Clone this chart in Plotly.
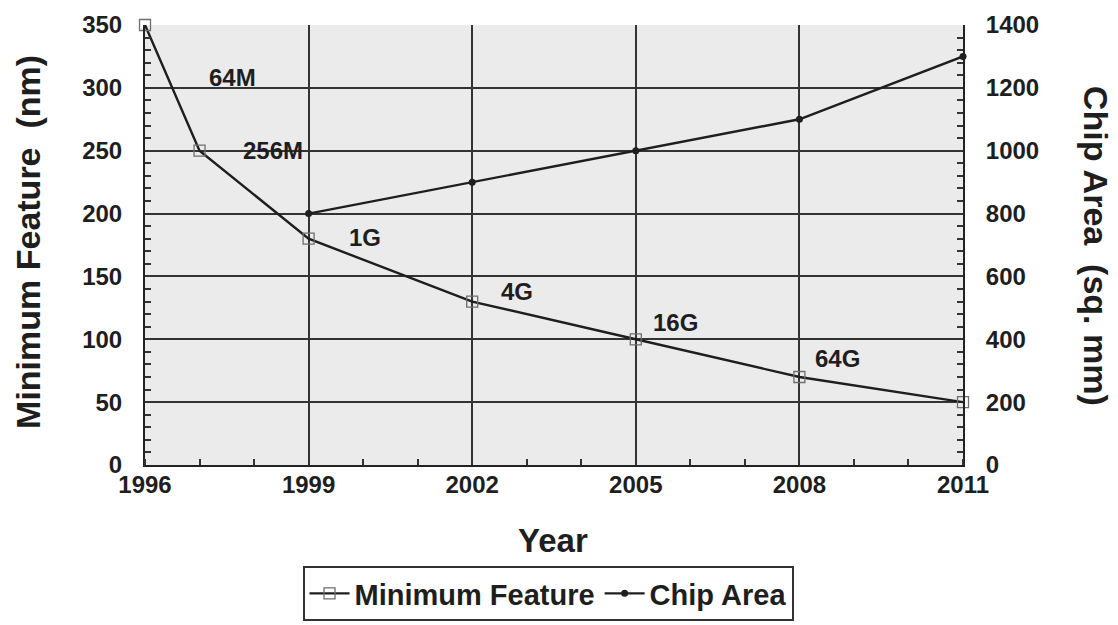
import plotly.graph_objects as go

# DRAM generations: minimum feature size and chip area by year
feature_years = [1996, 1997, 1999, 2002, 2005, 2008, 2011]
min_feature_nm = [350, 250, 180, 130, 100, 70, 50]

area_years = [1999, 2002, 2005, 2008, 2011]
chip_area_mm2 = [800, 900, 1000, 1100, 1300]

# memory generation labels and where they sit (year, nm)
gen_labels = ["64M", "256M", "1G", "4G", "16G", "64G"]
gen_label_x = [1997.6, 1998.35, 2000.03, 2002.82, 2005.72, 2008.7]
gen_label_y = [308, 250.5, 181, 138, 113, 85]

x_tickvals = [1996, 1999, 2002, 2005, 2008, 2011]

FONT = "Liberation Sans, Arial, Helvetica, sans-serif"
INK = "#1e1e1e"

fig = go.Figure()

fig.add_trace(go.Scatter(
    x=feature_years, y=min_feature_nm, name="Minimum Feature",
    mode="lines+markers",
    line=dict(color=INK, width=2.4),
    marker=dict(symbol="square-open", size=11, color="#6e6e6e",
                line=dict(width=1.3, color="#6e6e6e")),
    cliponaxis=False,
))

fig.add_trace(go.Scatter(
    x=area_years, y=chip_area_mm2, name="Chip Area", yaxis="y2",
    mode="lines+markers",
    line=dict(color=INK, width=2.4),
    marker=dict(symbol="circle", size=7, color=INK),
    cliponaxis=False,
))

annotations = []
for txt, gx, gy in zip(gen_labels, gen_label_x, gen_label_y):
    annotations.append(dict(
        x=gx, y=gy, xref="x", yref="y", text=txt, showarrow=False,
        font=dict(size=24, color=INK, family=FONT, weight="bold"),
        xanchor="center", yanchor="middle",
    ))

# axis titles
annotations.append(dict(
    x=-0.143, y=0.507, xref="paper", yref="paper",
    text="Minimum Feature  (nm)", textangle=-90, showarrow=False,
    font=dict(size=34, color=INK, family=FONT, weight="bold"),
    xanchor="center", yanchor="middle",
))
annotations.append(dict(
    x=1.1626, y=0.498, xref="paper", yref="paper",
    text="Chip Area  (sq. mm)", textangle=90, showarrow=False,
    font=dict(size=34, color=INK, family=FONT, weight="bold"),
    xanchor="center", yanchor="middle",
))
annotations.append(dict(
    x=0.4988, y=-0.1727, xref="paper", yref="paper",
    text="Year", showarrow=False,
    font=dict(size=33, color=INK, family=FONT, weight="bold"),
    xanchor="center", yanchor="middle",
))

grid = "#333333"

fig.update_layout(
    width=1118, height=625,
    margin=dict(l=145, r=155, t=25, b=160, autoexpand=False),
    paper_bgcolor="white",
    plot_bgcolor="#ebebeb",
    font=dict(family=FONT, size=24, color=INK, weight="bold"),
    showlegend=True,
    legend=dict(
        orientation="h", x=0.4927, xanchor="center", y=-0.2295, yanchor="top",
        bordercolor="#333", borderwidth=2, bgcolor="white",
        font=dict(size=29, family=FONT, color=INK, weight="bold"),
        itemwidth=40, tracegroupgap=0,
    ),
    xaxis=dict(
        range=[1996, 2011], tickmode="array", tickvals=x_tickvals,
        showgrid=True, gridcolor=grid, gridwidth=1.8,
        showline=True, linecolor="#222", linewidth=2,
        ticks="", ticklabelstandoff=-3, zeroline=False,
        tickfont=dict(size=24),
        minor=dict(dtick=1, tick0=1996, ticks="inside", ticklen=6,
                   tickwidth=1.5, tickcolor="#333", showgrid=False),
    ),
    yaxis=dict(
        range=[0, 350], dtick=50, tick0=0,
        showgrid=True, gridcolor=grid, gridwidth=1.8,
        showline=True, linecolor="#222", linewidth=2,
        ticks="", ticklabelstandoff=16, zeroline=False,
        tickfont=dict(size=24),
        minor=dict(dtick=10, ticks="inside", ticklen=6,
                   tickwidth=1.5, tickcolor="#333", showgrid=False),
    ),
    yaxis2=dict(
        range=[0, 1400], dtick=200, tick0=0, overlaying="y", side="right",
        showgrid=False, showline=True, linecolor="#222", linewidth=2,
        ticks="", ticklabelstandoff=16, zeroline=False,
        tickfont=dict(size=24),
        minor=dict(dtick=40, ticks="inside", ticklen=6,
                   tickwidth=1.5, tickcolor="#333", showgrid=False),
    ),
    annotations=annotations,
)

fig.write_html("out.html")
